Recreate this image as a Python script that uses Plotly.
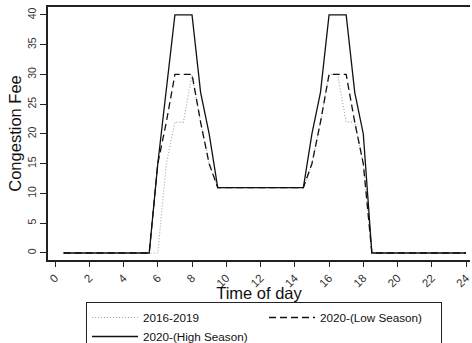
import plotly.graph_objects as go

# Half-hourly time of day (hours)
hours = [0.5, 1.0, 1.5, 2.0, 2.5, 3.0, 3.5, 4.0, 4.5, 5.0, 5.5,
         6.0, 6.5, 7.0, 7.5, 8.0, 8.5, 9.0, 9.5,
         10.0, 10.5, 11.0, 11.5, 12.0, 12.5, 13.0, 13.5, 14.0, 14.5,
         15.0, 15.5, 16.0, 16.5, 17.0, 17.5, 18.0, 18.5,
         19.0, 19.5, 20.0, 20.5, 21.0, 21.5, 22.0, 22.5, 23.0, 23.5, 24.0]

fee_2016_2019 = [0, 0, 0, 0, 0, 0, 0, 0, 0, 0, 0,
                 0, 15, 22, 22, 30, 22, 15, 11,
                 11, 11, 11, 11, 11, 11, 11, 11, 11, 11,
                 15, 22, 30, 30, 22, 22, 15, 0,
                 0, 0, 0, 0, 0, 0, 0, 0, 0, 0, 0]

fee_2020_low = [0, 0, 0, 0, 0, 0, 0, 0, 0, 0, 0,
                15, 22, 30, 30, 30, 22, 15, 11,
                11, 11, 11, 11, 11, 11, 11, 11, 11, 11,
                15, 22, 30, 30, 30, 22, 15, 0,
                0, 0, 0, 0, 0, 0, 0, 0, 0, 0, 0]

fee_2020_high = [0, 0, 0, 0, 0, 0, 0, 0, 0, 0, 0,
                 15, 27, 40, 40, 40, 27, 20, 11,
                 11, 11, 11, 11, 11, 11, 11, 11, 11, 11,
                 20, 27, 40, 40, 40, 27, 20, 0,
                 0, 0, 0, 0, 0, 0, 0, 0, 0, 0, 0]

series_names = ["2016-2019", "2020-(Low Season)", "2020-(High Season)"]
x_ticks = [0, 2, 4, 6, 8, 10, 12, 14, 16, 18, 20, 22, 24]
y_ticks = [0, 5, 10, 15, 20, 25, 30, 35, 40]

FONT = "Liberation Sans, Arial, sans-serif"

fig = go.Figure()
fig.add_trace(go.Scatter(x=hours, y=fee_2016_2019, mode="lines", name=series_names[0],
                         line=dict(color="#a8a8a8", width=1.2, dash="1px,2px")))
fig.add_trace(go.Scatter(x=hours, y=fee_2020_low, mode="lines", name=series_names[1],
                         line=dict(color="#111111", width=1.3, dash="7px,4px")))
fig.add_trace(go.Scatter(x=hours, y=fee_2020_high, mode="lines", name=series_names[2],
                         line=dict(color="#111111", width=1.3)))

fig.update_layout(
    width=472, height=343,
    margin=dict(l=48, r=0, t=7, b=83, pad=0),
    paper_bgcolor="white", plot_bgcolor="white",
    font=dict(family=FONT, color="#111111"),
    showlegend=True,
    legend=dict(
        orientation="h",
        xref="container", yref="container",
        x=86 / 472, y=(343 - 302) / 343,
        xanchor="left", yanchor="top",
        entrywidth=116,
        bordercolor="#222222", borderwidth=1,
        font=dict(size=11.7, family=FONT, color="#111111"),
        tracegroupgap=0,
        itemwidth=46,
    ),
    xaxis=dict(
        range=[-0.41, 24.23],
        tickmode="array", tickvals=x_ticks, ticktext=[str(v) for v in x_ticks],
        tickangle=-45, ticks="outside", ticklen=5, tickwidth=1, tickcolor="#222222",
        tickfont=dict(size=11.5, family=FONT, color="#333333"),
        ticklabeloverflow="allow",
        showline=True, linewidth=1.5, linecolor="#222222", mirror=True,
        showgrid=False, zeroline=False,
        title=dict(text="Time of day", font=dict(size=16.5, family=FONT, color="#111111"), standoff=0),
    ),
    yaxis=dict(
        range=[-1.18, 41.34],
        tickmode="array", tickvals=y_ticks, ticktext=[str(v) for v in y_ticks],
        tickangle=-90, ticks="outside", ticklen=6, tickwidth=1, tickcolor="#222222",
        tickfont=dict(size=10.5, family=FONT, color="#333333"),
        showline=True, linewidth=1.5, linecolor="#222222",
        showgrid=False, zeroline=False,
        title=dict(text="Congestion Fee", font=dict(size=16.5, family=FONT, color="#111111"), standoff=0),
    ),
)

fig.write_html("out.html")
